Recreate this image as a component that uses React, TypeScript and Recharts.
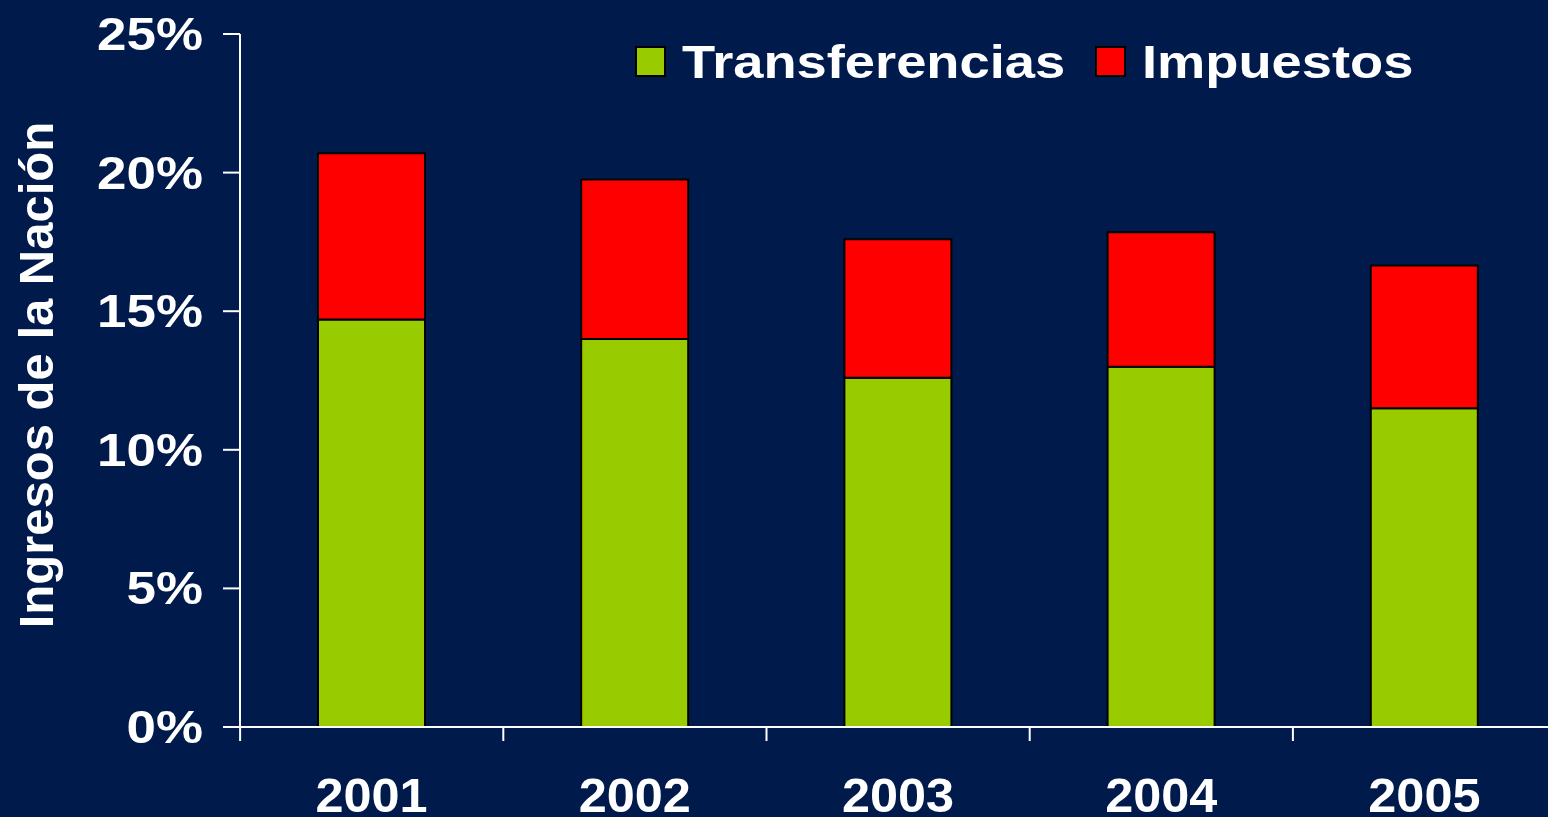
import { BarChart, Bar, XAxis, YAxis } from "recharts"

const years = ["2001", "2002", "2003", "2004", "2005"]
const transferencias = [14.7, 14.0, 12.6, 13.0, 11.5]
const impuestos = [6.0, 5.75, 5.0, 4.85, 5.15]
const yTicks = [0, 5, 10, 15, 20, 25]

const data = years.map((year, i) => ({
  year,
  transferencias: transferencias[i],
  impuestos: impuestos[i],
}))

const BG = "#001b4b"
const GREEN = "#99cc00"
const RED = "#ff0000"
const FONT = "'Liberation Sans', Arial, sans-serif"
const STRETCH = 1.15
const BAND = 263

const series = [
  { key: "transferencias", name: "Transferencias", color: GREEN },
  { key: "impuestos", name: "Impuestos", color: RED },
]

const YTick = (props: any) => {
  const { x, y, payload } = props
  return (
    <g transform={`translate(${x},${y}) scale(${STRETCH},1)`}>
      <text
        x={0}
        y={0}
        dy={16}
        textAnchor="end"
        fill="#fff"
        fontSize={46}
        fontWeight="bold"
        fontFamily={FONT}
      >
        {payload.value}%
      </text>
    </g>
  )
}

const XTick = (props: any) => {
  const { x, y, payload } = props
  const left = x - BAND / 2
  return (
    <g>
      <line x1={left} x2={left} y1={y} y2={y + 14} stroke="#fff" strokeWidth={2} />
      <g transform={`translate(${x},${y + 85}) scale(1.05,1)`}>
        <text
          x={0}
          y={0}
          textAnchor="middle"
          fill="#fff"
          fontSize={48}
          fontWeight="bold"
          fontFamily={FONT}
        >
          {payload.value}
        </text>
      </g>
    </g>
  )
}

// legend item offsets
const LEGEND_X = [0, 460]

function ChartLegend() {
  return (
    <svg
      width={900}
      height={60}
      style={{ position: "absolute", left: 635, top: 41, overflow: "visible" }}
    >
      {series.map((s, i) => (
        <g key={s.key} transform={`translate(${LEGEND_X[i]},0)`}>
          <rect x={1} y={6} width={29} height={29} fill={s.color} stroke="#000" strokeWidth={2} />
          <g transform={`translate(47,37) scale(1.18,1)`}>
            <text x={0} y={0} fill="#fff" fontSize={46} fontWeight="bold" fontFamily={FONT}>
              {s.name}
            </text>
          </g>
        </g>
      ))}
    </svg>
  )
}

export default function App() {
  return (
    <div
      style={{
        position: "fixed",
        left: 0,
        top: 0,
        width: 1548,
        height: 817,
        overflow: "hidden",
        background: BG,
      }}
    >
      <BarChart
        width={1556}
        height={817}
        data={data}
        margin={{ top: 34, right: 0, bottom: 0, left: 0 }}
        barSize={107}
      >
        <XAxis
          dataKey="year"
          axisLine={{ stroke: "#fff", strokeWidth: 2 }}
          tickLine={false}
          tickSize={0}
          tickMargin={0}
          tick={<XTick />}
          interval={0}
          height={90}
        />
        <YAxis
          domain={[0, 25]}
          ticks={yTicks}
          width={240}
          axisLine={{ stroke: "#fff", strokeWidth: 2 }}
          tickLine={{ stroke: "#fff", strokeWidth: 2 }}
          tickSize={17}
          tickMargin={20}
          tick={<YTick />}
          label={{
            content: () => (
              <text
                x={53}
                y={375}
                transform="rotate(-90 53 375)"
                textAnchor="middle"
                fill="#fff"
                fontSize={49}
                fontWeight="bold"
                fontFamily={FONT}
              >
                Ingresos de la Nación
              </text>
            ),
          }}
        />
        {series.map((s) => (
          <Bar
            key={s.key}
            dataKey={s.key}
            name={s.name}
            stackId="a"
            fill={s.color}
            stroke="#000"
            strokeWidth={2}
            isAnimationActive={false}
          />
        ))}
      </BarChart>
      <ChartLegend />
    </div>
  )
}
